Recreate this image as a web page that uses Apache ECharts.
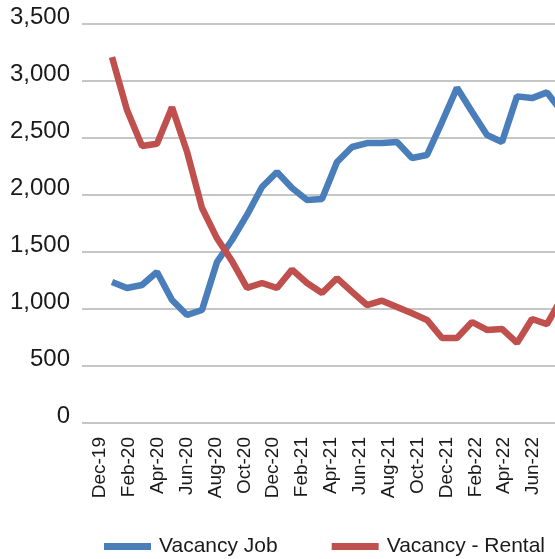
<!DOCTYPE html>
<html>
<head>
<meta charset="utf-8">
<script src="https://cdn.jsdelivr.net/npm/echarts@6/dist/echarts.min.js"></script>
<style>
  html, body { margin: 0; padding: 0; background: #fff; overflow: hidden; }
  /* wider than the window: the source chart is cut off at the right */
  #main { width: 575px; height: 559px; }
</style>
</head>
<body>
<div id="main"></div>
<script>
// months, Dec-19 .. Jun-22
const months = ['Dec-19', 'Jan-20', 'Feb-20', 'Mar-20', 'Apr-20', 'May-20', 'Jun-20', 'Jul-20',
  'Aug-20', 'Sep-20', 'Oct-20', 'Nov-20', 'Dec-20', 'Jan-21', 'Feb-21', 'Mar-21', 'Apr-21',
  'May-21', 'Jun-21', 'Jul-21', 'Aug-21', 'Sep-21', 'Oct-21', 'Nov-21', 'Dec-21', 'Jan-22',
  'Feb-22', 'Mar-22', 'Apr-22', 'May-22', 'Jun-22']
const seriesNames = ['Vacancy Job', 'Vacancy - Rental']
const jobVacancy = [1237, 1184, 1210, 1325, 1079, 947, 991, 1412, 1605, 1825, 2070, 2202, 2061,
  1956, 1965, 2290, 2421, 2456, 2456, 2465, 2325, 2351, 2640, 2940, 2730, 2526, 2465, 2865,
  2850, 2900, 2730]
const rentalVacancy = [3210, 2745, 2430, 2450, 2770, 2380, 1886, 1620, 1420, 1185, 1228, 1184,
  1345, 1228, 1140, 1270, 1150, 1035, 1073, 1018, 962, 904, 746, 746, 886, 816, 825, 702, 912,
  868, 1100]
const yMin = 0
const yMax = 3500
const yStep = 500

const FONT = 'Liberation Sans'
const TEXT = '#1a1a1a'
const BLUE = '#4a7ebb'
const RED = '#c0504d'

let myChart = echarts.init(document.getElementById('main'))
let option = {
  animation: false,
  grid: [
    { left: 82, right: 18, top: 24, bottom: 136 }, // y axis + grid lines
    { left: 100, right: 42, top: 24, bottom: 136 }, // month labels
    { left: 112, right: 13, top: 24, bottom: 136 } // lines
  ],
  legend: {
    data: seriesNames,
    left: 99,
    top: 531,
    width: 520,
    icon: 'rect',
    itemWidth: 47,
    itemHeight: 7,
    itemGap: 54,
    textStyle: { fontFamily: FONT, fontSize: 21, color: TEXT, padding: [0, 0, 0, 3] }
  },
  xAxis: [
    { gridIndex: 0, type: 'category', data: months, show: false },
    {
      gridIndex: 1,
      type: 'category',
      data: months,
      boundaryGap: false,
      axisLine: { show: false },
      axisTick: { show: false },
      axisLabel: { interval: 1, rotate: 90, margin: 14, fontFamily: FONT, fontSize: 19, color: TEXT }
    },
    { gridIndex: 2, type: 'category', data: months, boundaryGap: false, show: false }
  ],
  yAxis: [
    {
      gridIndex: 0,
      type: 'value',
      min: yMin,
      max: yMax,
      interval: yStep,
      axisLine: { show: false },
      axisTick: { show: false },
      splitLine: { lineStyle: { color: '#b3b3b3', width: 1.5 } },
      axisLabel: {
        margin: 12,
        fontFamily: FONT,
        fontSize: 24,
        color: TEXT,
        verticalAlign: 'bottom',
        lineHeight: 14,
        formatter: function (v) { return v.toLocaleString('en-US') }
      }
    },
    { gridIndex: 1, type: 'value', min: yMin, max: yMax, interval: yStep, show: false },
    { gridIndex: 2, type: 'value', min: yMin, max: yMax, interval: yStep, show: false }
  ],
  series: [
    {
      name: seriesNames[0],
      type: 'line',
      xAxisIndex: 2,
      yAxisIndex: 2,
      data: jobVacancy,
      showSymbol: false,
      color: BLUE,
      itemStyle: { color: BLUE },
      lineStyle: { color: BLUE, width: 6.5 }
    },
    {
      name: seriesNames[1],
      type: 'line',
      xAxisIndex: 2,
      yAxisIndex: 2,
      data: rentalVacancy,
      showSymbol: false,
      color: RED,
      itemStyle: { color: RED },
      lineStyle: { color: RED, width: 6.5 }
    }
  ]
}
myChart.setOption(option)
</script>
</body>
</html>
